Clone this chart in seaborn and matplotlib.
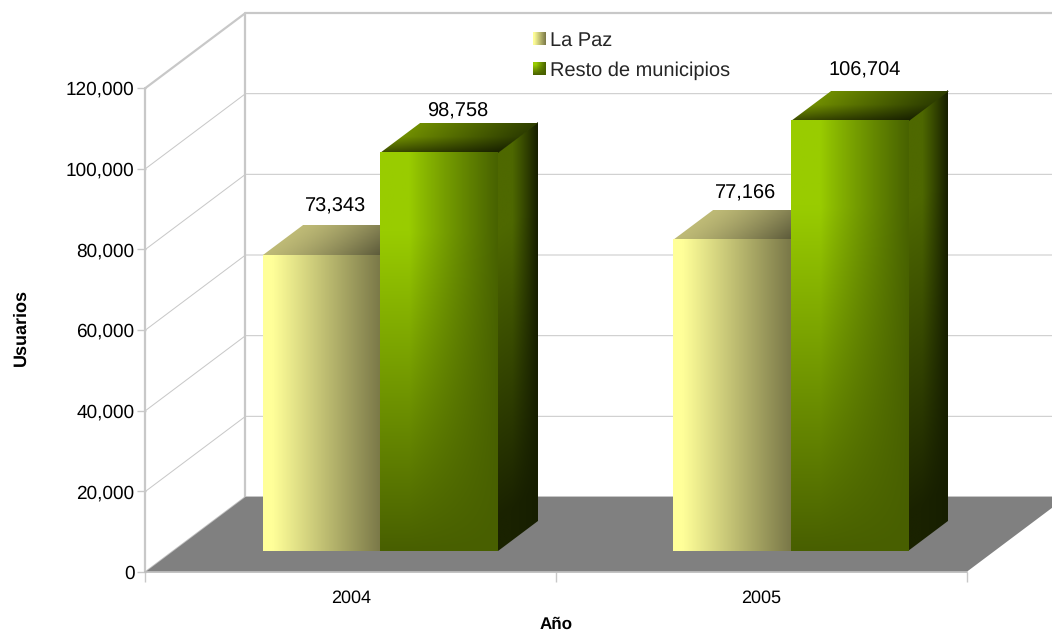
import numpy as np
import pandas as pd
import matplotlib
matplotlib.use("Agg")
import matplotlib.pyplot as plt
from matplotlib.patches import Polygon
from matplotlib.transforms import Affine2D, IdentityTransform
import seaborn as sns

years = ["2004", "2005"]
la_paz = [73343, 77166]
resto = [98758, 106704]
series_names = ["La Paz", "Resto de municipios"]
y_ticks = [0, 20000, 40000, 60000, 80000, 100000, 120000]

df = pd.DataFrame({
    "Año": years * 2,
    "Usuarios": la_paz + resto,
    "Serie": [series_names[0]] * 2 + [series_names[1]] * 2,
})

W, H = 1052, 633
sns.set_theme(style="white")
plt.rcParams["font.family"] = ["Liberation Sans", "DejaVu Sans"]
plt.rcParams["text.hinting"] = "no_hinting"
plt.rcParams["text.hinting_factor"] = 1
fig = plt.figure(figsize=(W / 100, H / 100), dpi=100, facecolor="white")
ax = fig.add_axes([145.5 / W, (H - 572) / H, 821 / W, 484 / H])
ax.patch.set_visible(False)

sns.barplot(data=df, x="Año", y="Usuarios", hue="Serie", width=0.5725, gap=0,
            palette=["#c8c88a", "#6f9000"], legend=False, ax=ax, saturation=1, errorbar=None)
yellow_bars, green_bars = list(ax.containers[0]), list(ax.containers[1])
ax.set_xlim(-0.5, 1.5)
ax.set_ylim(0, 120000)
sx, sy = 2 / 821, 120000 / 484          # data units per pixel
wall_dx, wall_dy = 100 * sx, 75 * sy    # depth of the chart box
bar_dx, bar_dy = 29.3 * sx, 21 * sy     # front plane of the bars
dep_dx, dep_dy = 40 * sx, 30 * sy       # depth of one bar
GRID = "#c8c8c8"
x0, x1 = -0.5, 1.5

for s in ax.spines.values():
    s.set_visible(False)

# walls, grid, floor
for v in y_ticks[1:]:
    thick = 2.2 if v == y_ticks[-1] else 1.0
    ax.plot([x0, x0 + wall_dx, x1 + wall_dx], [v, v + wall_dy, v + wall_dy],
            color=GRID, lw=thick * 0.72, clip_on=False, zorder=1, solid_joinstyle="miter")
ax.plot([x0, x0], [0, 120000], color=GRID, lw=1.6, clip_on=False, zorder=1)
ax.plot([x0 + wall_dx] * 2, [wall_dy, 120000 + wall_dy], color=GRID, lw=1.6, clip_on=False, zorder=1)
ax.add_patch(Polygon([[x0, 0], [x1, 0], [x1 + wall_dx, wall_dy], [x0 + wall_dx, wall_dy]],
                     closed=True, facecolor="#808080", edgecolor="none", clip_on=False, zorder=1.5))
ax.plot([x0, x1], [0, 0], color="#bdbdbd", lw=1.3, clip_on=False, zorder=1.6)
ax.plot([x0, x0 + wall_dx, x1 + wall_dx], [0, wall_dy, wall_dy], color="#c0c0c0", lw=1.3,
        clip_on=False, zorder=1.45)

# gradients
def lerp(a, b, t):
    a, b = np.asarray(a, float), np.asarray(b, float)
    return a + (b - a) * t[..., None]

def grid_uv(nx=120, ny=200):
    u, v = np.meshgrid(np.linspace(0, 1, nx), np.linspace(0, 1, ny))
    return u, v          # v = 0 bottom, 1 top

def rgba(col):
    return np.dstack([col / 255, np.ones(col.shape[:2])])

def yellow_front():
    u, v = grid_uv(ny=2)
    t = np.clip((u - 0.08) / 0.92, 0, 1)
    return rgba(lerp((255, 255, 153), (122, 120, 72), t))

def yellow_top():
    u, v = grid_uv(ny=2)
    return rgba(lerp((190, 186, 118), (92, 90, 58), u**1.3))

def yellow_side():
    u, v = grid_uv(ny=2)
    return rgba(lerp((122, 120, 72), (60, 60, 36), u))

def green_front():
    u, v = grid_uv()
    bright = lerp((153, 204, 0), (72, 98, 0), np.clip((u - 0.25) / 0.75, 0, 1) ** 0.9)
    t = np.clip((0.8 - v) / 0.8, 0, 1)
    col = bright + (np.array([72, 95, 0.0]) - bright) * t[..., None]
    return rgba(col)

def green_side():
    u, v = grid_uv()
    left = lerp((26, 34, 0), (78, 104, 0), np.clip((v - 0.08) / 0.72, 0, 1))
    col = left + (np.array([22, 30, 0.0]) - left) * (np.clip((u - 0.35) / 0.65, 0, 1) ** 1.1)[..., None]
    return rgba(col)

def green_top():
    u, v = grid_uv()
    col = lerp((112, 142, 0), (46, 62, 0), u)
    shade = 0.48 + 0.52 * np.clip(v / 0.55, 0, 1) ** 0.8
    return rgba(col * shade[..., None])

def face(img, p0, pu, pv, z):
    """Paint img on the parallelogram p0, p0+pu, p0+pv (data coordinates)."""
    m = np.array([[pu[0], pv[0], p0[0]], [pu[1], pv[1], p0[1]], [0, 0, 1.0]])
    ax.imshow(img, extent=(0, 1, 0, 1), origin="lower", aspect="auto", interpolation="bilinear",
              transform=Affine2D(m) + ax.transData, clip_on=False, zorder=z)

# pixel nudges of each value label from its bar
label_nudges = {73343: (14.5, 49), 77166: (14, 46.5), 98758: (18.5, 41.5), 106704: (15, 50)}

z = 3.0
paint = {0: (yellow_front(), yellow_side(), yellow_top()), 1: (green_front(), green_side(), green_top())}
tagged = [(b, 0) for b in yellow_bars] + [(b, 1) for b in green_bars]
for b, kind in sorted(tagged, key=lambda t: t[0].get_x()):
    bx = b.get_x() + bar_dx
    by = bar_dy
    bw, bh = b.get_width(), b.get_height()
    b.set_x(bx); b.set_y(by); b.set_zorder(z); b.set_linewidth(0); b.set_clip_on(False)
    fr, si, to = paint[kind]
    face(si, (bx + bw, by), (dep_dx, dep_dy), (0, bh), z + 0.1)
    face(to, (bx, by + bh), (bw, 0), (dep_dx, dep_dy), z + 0.2)
    face(fr, (bx, by), (bw, 0), (0, bh), z + 0.3)
    nx, ny = label_nudges[int(bh)]
    ax.text(bx + bw / 2 + nx * sx, by + bh + ny * sy, f"{bh:,.0f}", ha="center", va="center",
            fontsize=14.4, color="#000000", zorder=10, clip_on=False)
    z += 1
ax.set_xlim(-0.5, 1.5)
ax.set_ylim(0, 120000)

# axes decoration
ax.set_yticks(y_ticks)
ax.set_yticklabels([f"{v:,}" for v in y_ticks], fontsize=13.4, color="#000000")
ax.tick_params(axis="y", length=6.5, width=1, color=GRID, pad=1.5, left=True)
ax.set_xticks([0, 1])
ax.set_xticklabels(years, fontsize=13, color="#000000")
ax.set_xticks([-0.5, 0.5, 1.5], minor=True)
ax.tick_params(axis="x", which="major", length=0, pad=13)
ax.tick_params(axis="x", which="minor", length=7, width=1, color=GRID, bottom=True)
ax.set_xlabel("Año", fontsize=12.6, fontweight="bold", color="#000000", labelpad=7)
ax.set_ylabel("Usuarios", fontsize=12.8, fontweight="bold", color="#000000", labelpad=26)
ax.yaxis.label.set_y(0.505)
ax.grid(False)

# legend
leg = ax.legend([yellow_bars[0], green_bars[0]], series_names, frameon=False, loc="upper left",
                bbox_to_anchor=(533 / W, 1 - 31 / H), bbox_transform=fig.transFigure,
                fontsize=14.2, handlelength=0.61, handleheight=0.61, handletextpad=0.26,
                labelspacing=0.57, borderpad=0, borderaxespad=0)
fig.canvas.draw()
swatches = [yellow_front(), green_front()]
for h, img in zip(leg.legend_handles, swatches):
    e = h.get_window_extent()
    m = np.array([[e.width, 0, e.x0], [0, e.height, e.y0], [0, 0, 1.0]])
    ax.imshow(img, extent=(0, 1, 0, 1), origin="lower", aspect="auto", interpolation="bilinear",
              transform=Affine2D(m) + IdentityTransform(), clip_on=False, zorder=20)
ax.set_xlim(-0.5, 1.5)
ax.set_ylim(0, 120000)

fig.savefig("out.png", dpi=100, facecolor="white")
